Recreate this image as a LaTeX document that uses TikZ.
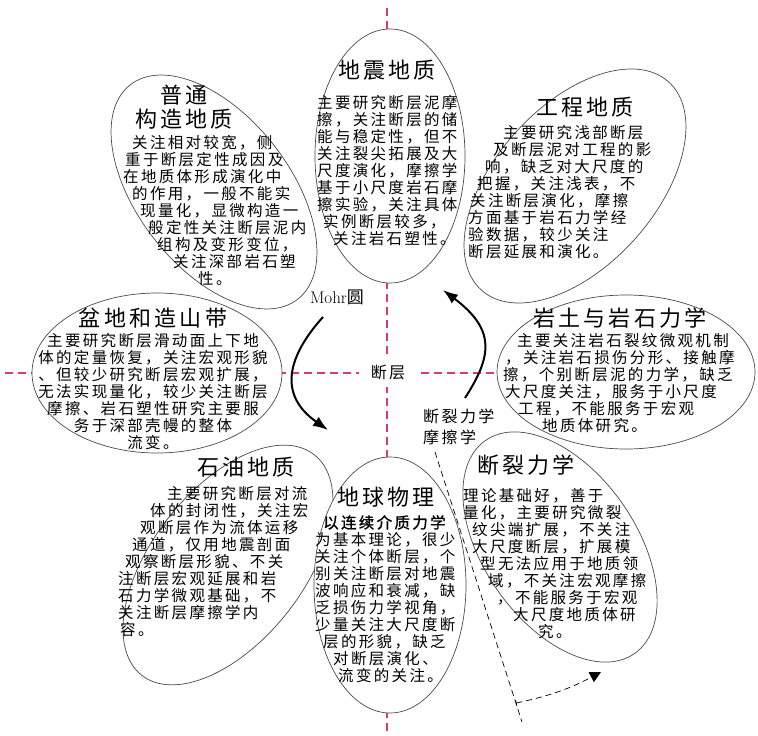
\documentclass[tikz,border=0pt]{standalone}
\usepackage{fontspec}
\usepackage{xcolor}
\usepackage{tikz}
\usetikzlibrary{positioning,calc,arrows.meta,shapes.geometric}
\newfontfamily\cn[LetterSpace=15]{Noto Sans CJK SC}
\newfontfamily\cnb[LetterSpace=15,FakeBold=1.2]{Noto Sans CJK SC}
\definecolor{axisc}{HTML}{DC3A76}
\definecolor{rimc}{HTML}{4A4A4A}
\newcommand{\indt}[1]{\hspace*{#1pt}}

\begin{document}
\begin{tikzpicture}[x=1pt, y=-1pt,
 petal/.style={ellipse, draw=rimc, line width=0.7pt, fill=white, inner sep=0pt},
 ptitle/.style={font=\fontsize{22}{24}\cn, align=center, inner sep=0pt},
 pbody/.style={font=\fontsize{15.5}{17}\cn, align=left, inner sep=0pt, anchor=north west},
 axisline/.style={draw=axisc, line width=1.1pt, dash pattern=on 8pt off 5pt},
 bigarrow/.style={line width=2pt, -{Latex[length=15pt,width=11pt]}},
 guide/.style={line width=0.7pt, dash pattern=on 6pt off 4pt}]
 \useasboundingbox (0,0) rectangle (758,736);
 \draw[axisline] (5,373) -- (755,373);
 \draw[axisline] (387,8) -- (387,736);
 \foreach \nm/\cx/\cy/\dw/\dh/\ang in {pzg/214/192/272/152/-52, dzdz/390/156/254/150/90,
   gcdz/575/186/280/160/48, pdzs/157/373/250/160/0, ytys/626/372/258/154/0,
   sydz/228/565/280/152/52, dqwl/390/585/256/152/90, dllx/560/547/260/152/-55}
   \node[petal, minimum width=\dw pt, minimum height=\dh pt, rotate=\ang] (\nm) at (\cx,\cy) {};

 \node[ptitle] (pzgt) at (184,107) {普通\\构造地质};
 \node[pbody] (pzgb) at (123,135) {\indt{9}关注相对较宽，侧\\\indt{2}重于断层定性成因及\\在地质体形成演化中\\
   \indt{9}的作用，一般不能实\\\indt{17}现量化，显微构造一\\\indt{25}般定性关注断层泥内\\
   \indt{34}组构及变形变位，\\\indt{50}关注深部岩石塑\\\indt{75}性。};

 \node[ptitle] (dzdzt) at (387,70) {地震地质};
 \node[pbody] (dzdzb) at (317,95) {主要研究断层泥摩\\擦，关注断层的储\\能与稳定性，但不\\
   关注裂尖拓展及大\\尺度演化，摩擦学\\基于小尺度岩石摩\\擦实验，关注具体\\
   \indt{6}实例断层较多，\\\indt{16}关注岩石塑性。};

 \node[ptitle] (gcdzt) at (585,107) {工程地质};
 \node[pbody] (gcdzb) at (468,125) {\indt{35}主要研究浅部断层\\\indt{25}及断层泥对工程的影\\
   \indt{17}响，缺乏对大尺度的\\\indt{9}把握，关注浅表，不\\\indt{2}关注断层演化，摩擦\\
   方面基于岩石力学经\\验数据，较少关注\\断层延展和演化。};

 \node[ptitle] (pdzst) at (153,318) {盆地和造山带};
 \node[pbody, anchor=north, align=center] (pdzsb) at (153,333) {主要研究断层滑动面上下地\\
   体的定量恢复，关注宏观形貌\\、但较少研究断层宏观扩展，\\无法实现量化，较少关注断层\\
   摩擦、岩石塑性研究主要服\\务于深部壳幔的整体\\流变。};

 \node[ptitle] (ytyst) at (620,318) {岩土与岩石力学};
 \node[pbody] (ytysb) at (503,333) {\indt{14}主要关注岩石裂纹微观机制\\\indt{2}，关注岩石损伤分形、接触摩\\
   擦，个别断层泥的力学，缺乏\\\indt{2}大尺度关注，服务于小尺度\\\indt{15}工程，不能服务于宏观\\
   \indt{39}地质体研究。};

 \node[ptitle] (sydzt) at (246,467) {石油地质};
 \node[pbody] (sydzb) at (118,486) {\indt{49}主要研究断层对流\\\indt{32}体的封闭性，关注宏\\
   \indt{22}观断层作为流体运移\\\indt{14}通道，仅用地震剖面\\\indt{7}观察断层形貌、不关\\
   注断层宏观延展和岩\\石力学微观基础，不\\关注断层摩擦学内\\\indt{2}容。};

 \node[ptitle] (dqwlt) at (386,497) {地球物理};
 \node[pbody] (dqwlb) at (315,515) {\indt{8}{\cnb 以连续介质力学}\\为基本理论，很少\\关注个体断层，个\\
   别关注断层对地震\\波响应和衰减，缺\\乏损伤力学视角，\\少量关注大尺度断\\
   \indt{8}层的形貌，缺乏\\\indt{18}对断层演化、\\\indt{23}流变的关注。};

 \node[ptitle] (dllxt) at (526,465) {断裂力学};
 \node[pbody] (dllxb) at (463,488) {理论基础好，善于\\量化，主要研究微裂\\\indt{9}纹尖端扩展，不关注\\
   \indt{9}大尺度断层，扩展模\\\indt{17}型无法应用于地质领\\\indt{25}域，不关注宏观摩擦\\
   \indt{34}，不能服务于宏观\\\indt{50}大尺度地质体研\\\indt{75}究。};

 \node[fill=white, inner xsep=12pt, inner ysep=8pt, font=\fontsize{16}{18}\cn] (fault) at (388,372) {断层};
 \node[inner sep=0pt, font=\fontsize{17}{19}\selectfont] (mohr) at (337,297) {Mohr{\cn 圆}};
 \node[pbody, font=\fontsize{16}{21}\cn] (frac) at (423,409) {断裂力学\\摩擦学};

 \coordinate (mohrs) at (323,317);
 \coordinate (mohre) at (328,430);
 \coordinate (fracs) at (465,398);
 \coordinate (frace) at (443,290);
 \draw[bigarrow] (mohrs) .. controls (287,357) and (278,395) .. (mohre);
 \draw[bigarrow] (fracs) .. controls (492,356) and (496,330) .. (frace);

 \coordinate (gtop) at (435,452);
 \coordinate (gbot) at (522,722);
 \coordinate (garc) at (601,672);
 \draw[guide] (gtop) -- (gbot);
 \draw[guide, {Bar[width=6pt]}-{Triangle[length=11pt,width=11pt]}] ($(gtop)!0.93!(gbot)$) to[bend right=8] (garc);
\end{tikzpicture}
\end{document}
